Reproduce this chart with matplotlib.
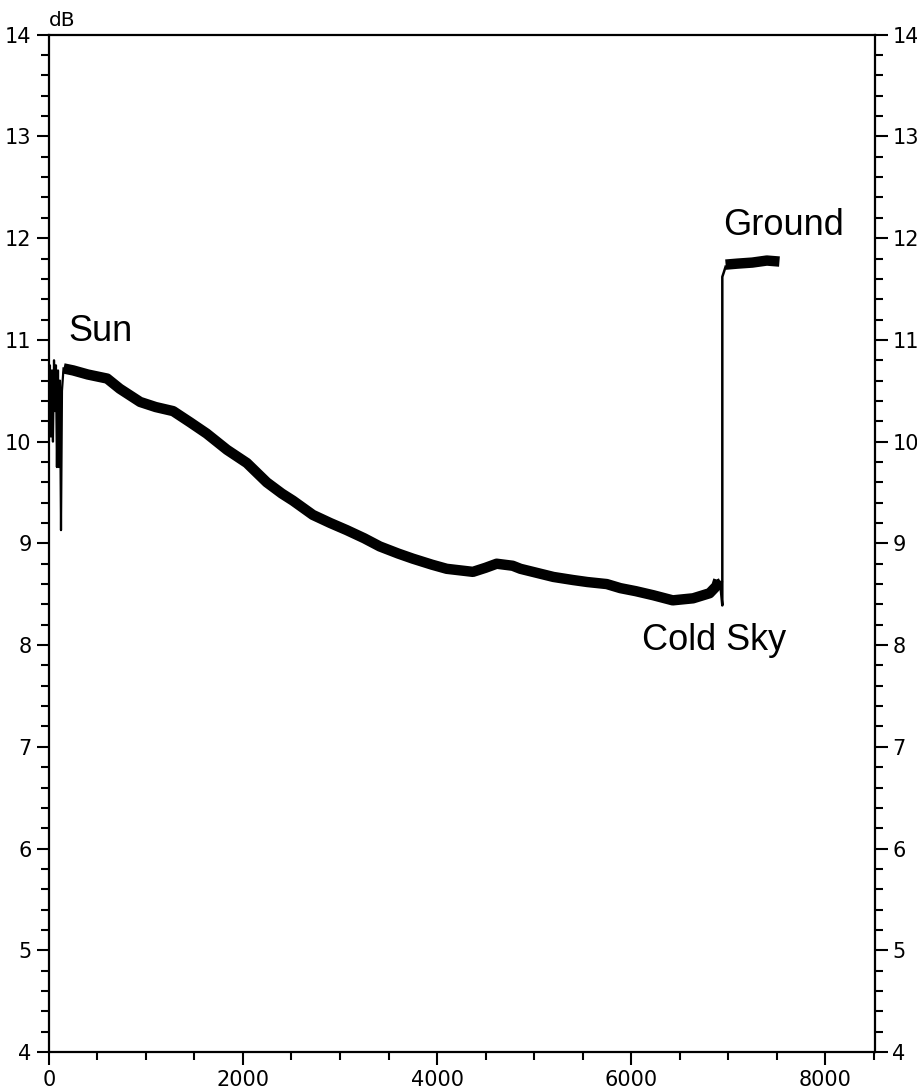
import numpy as np
import matplotlib.pyplot as plt
from matplotlib.ticker import MultipleLocator

# [Data]______________________________________________________________________

# spiky start of the sweep (thin line)
x_start = [0, 10, 20, 31, 41, 52, 62, 72, 82, 93, 103, 113, 124, 134, 150]
y_start = [10.2, 10.75, 10.05, 10.7, 10.0, 10.8, 10.3, 10.75, 9.75, 10.7, 9.75, 10.6, 9.13, 10.5, 10.72]

# smoothed sky trace (drawn thick, the noise band)
x_sky = [150, 250, 400, 600, 730, 940, 1100, 1280, 1455, 1625, 1835, 2040, 2245, 2400, 2515,
         2720, 2900, 3070, 3250, 3410, 3600, 3750, 3950, 4100, 4370, 4500, 4615, 4780, 4860,
         5030, 5200, 5400, 5550, 5750, 5890, 6050, 6230, 6430, 6640, 6810, 6880, 6900]
y_sky = [10.72, 10.7, 10.66, 10.62, 10.52, 10.39, 10.34, 10.3, 10.19, 10.08, 9.92, 9.79, 9.6,
         9.49, 9.42, 9.28, 9.2, 9.13, 9.05, 8.97, 8.9, 8.85, 8.79, 8.75, 8.72, 8.76, 8.8, 8.78,
         8.75, 8.71, 8.67, 8.64, 8.62, 8.6, 8.56, 8.53, 8.49, 8.44, 8.46, 8.51, 8.58, 8.64]

# switch from cold sky to ground (thin line)
x_jump = [6900, 6920, 6941, 6941, 6955, 6975]
y_jump = [8.64, 8.6, 8.39, 11.62, 11.66, 11.72]

# ground plateau
x_ground = [6975, 7100, 7250, 7400, 7530]
y_ground = [11.74, 11.75, 11.76, 11.78, 11.77]

labels = ["Sun", "Cold Sky", "Ground"]
label_x = [196, 6110, 6948]
label_y = [10.99, 7.95, 12.03]

# [Plot]______________________________________________________________________

fig = plt.figure(figsize=(9.17, 10.91), dpi=100)
ax = fig.add_axes([0.0534, 0.0357, 0.9008, 0.9325])

ax.plot(x_start, y_start, color="black", lw=1.6)
ax.plot(x_sky, y_sky, color="black", lw=7.5, solid_capstyle="butt", solid_joinstyle="round")
ax.plot(x_jump, y_jump, color="black", lw=1.8)
ax.plot(x_ground, y_ground, color="black", lw=7.5, solid_capstyle="butt")

for lab, lx, ly in zip(labels, label_x, label_y):
    ax.text(lx, ly, lab, fontsize=26, family="Liberation Sans", ha="left", va="baseline")

ax.set_xlim(0, 8515)
ax.set_ylim(4, 14)
ax.xaxis.set_major_locator(MultipleLocator(2000))
ax.xaxis.set_minor_locator(MultipleLocator(500))
ax.yaxis.set_major_locator(MultipleLocator(1))
ax.yaxis.set_minor_locator(MultipleLocator(0.2))

ax.tick_params(axis="both", which="major", direction="out", length=9, width=1.5, labelsize=15)
ax.tick_params(axis="both", which="minor", direction="out", length=6, width=1.5)
ax.tick_params(axis="y", which="both", left=True, right=True, labelleft=True, labelright=True)
ax.tick_params(axis="x", which="major", pad=4)
for s in ax.spines.values():
    s.set_linewidth(1.6)

ax.text(0.0, 1.0085, "dB", transform=ax.transAxes, fontsize=14.5, ha="left", va="baseline")

plt.savefig("out.png", dpi=100)
